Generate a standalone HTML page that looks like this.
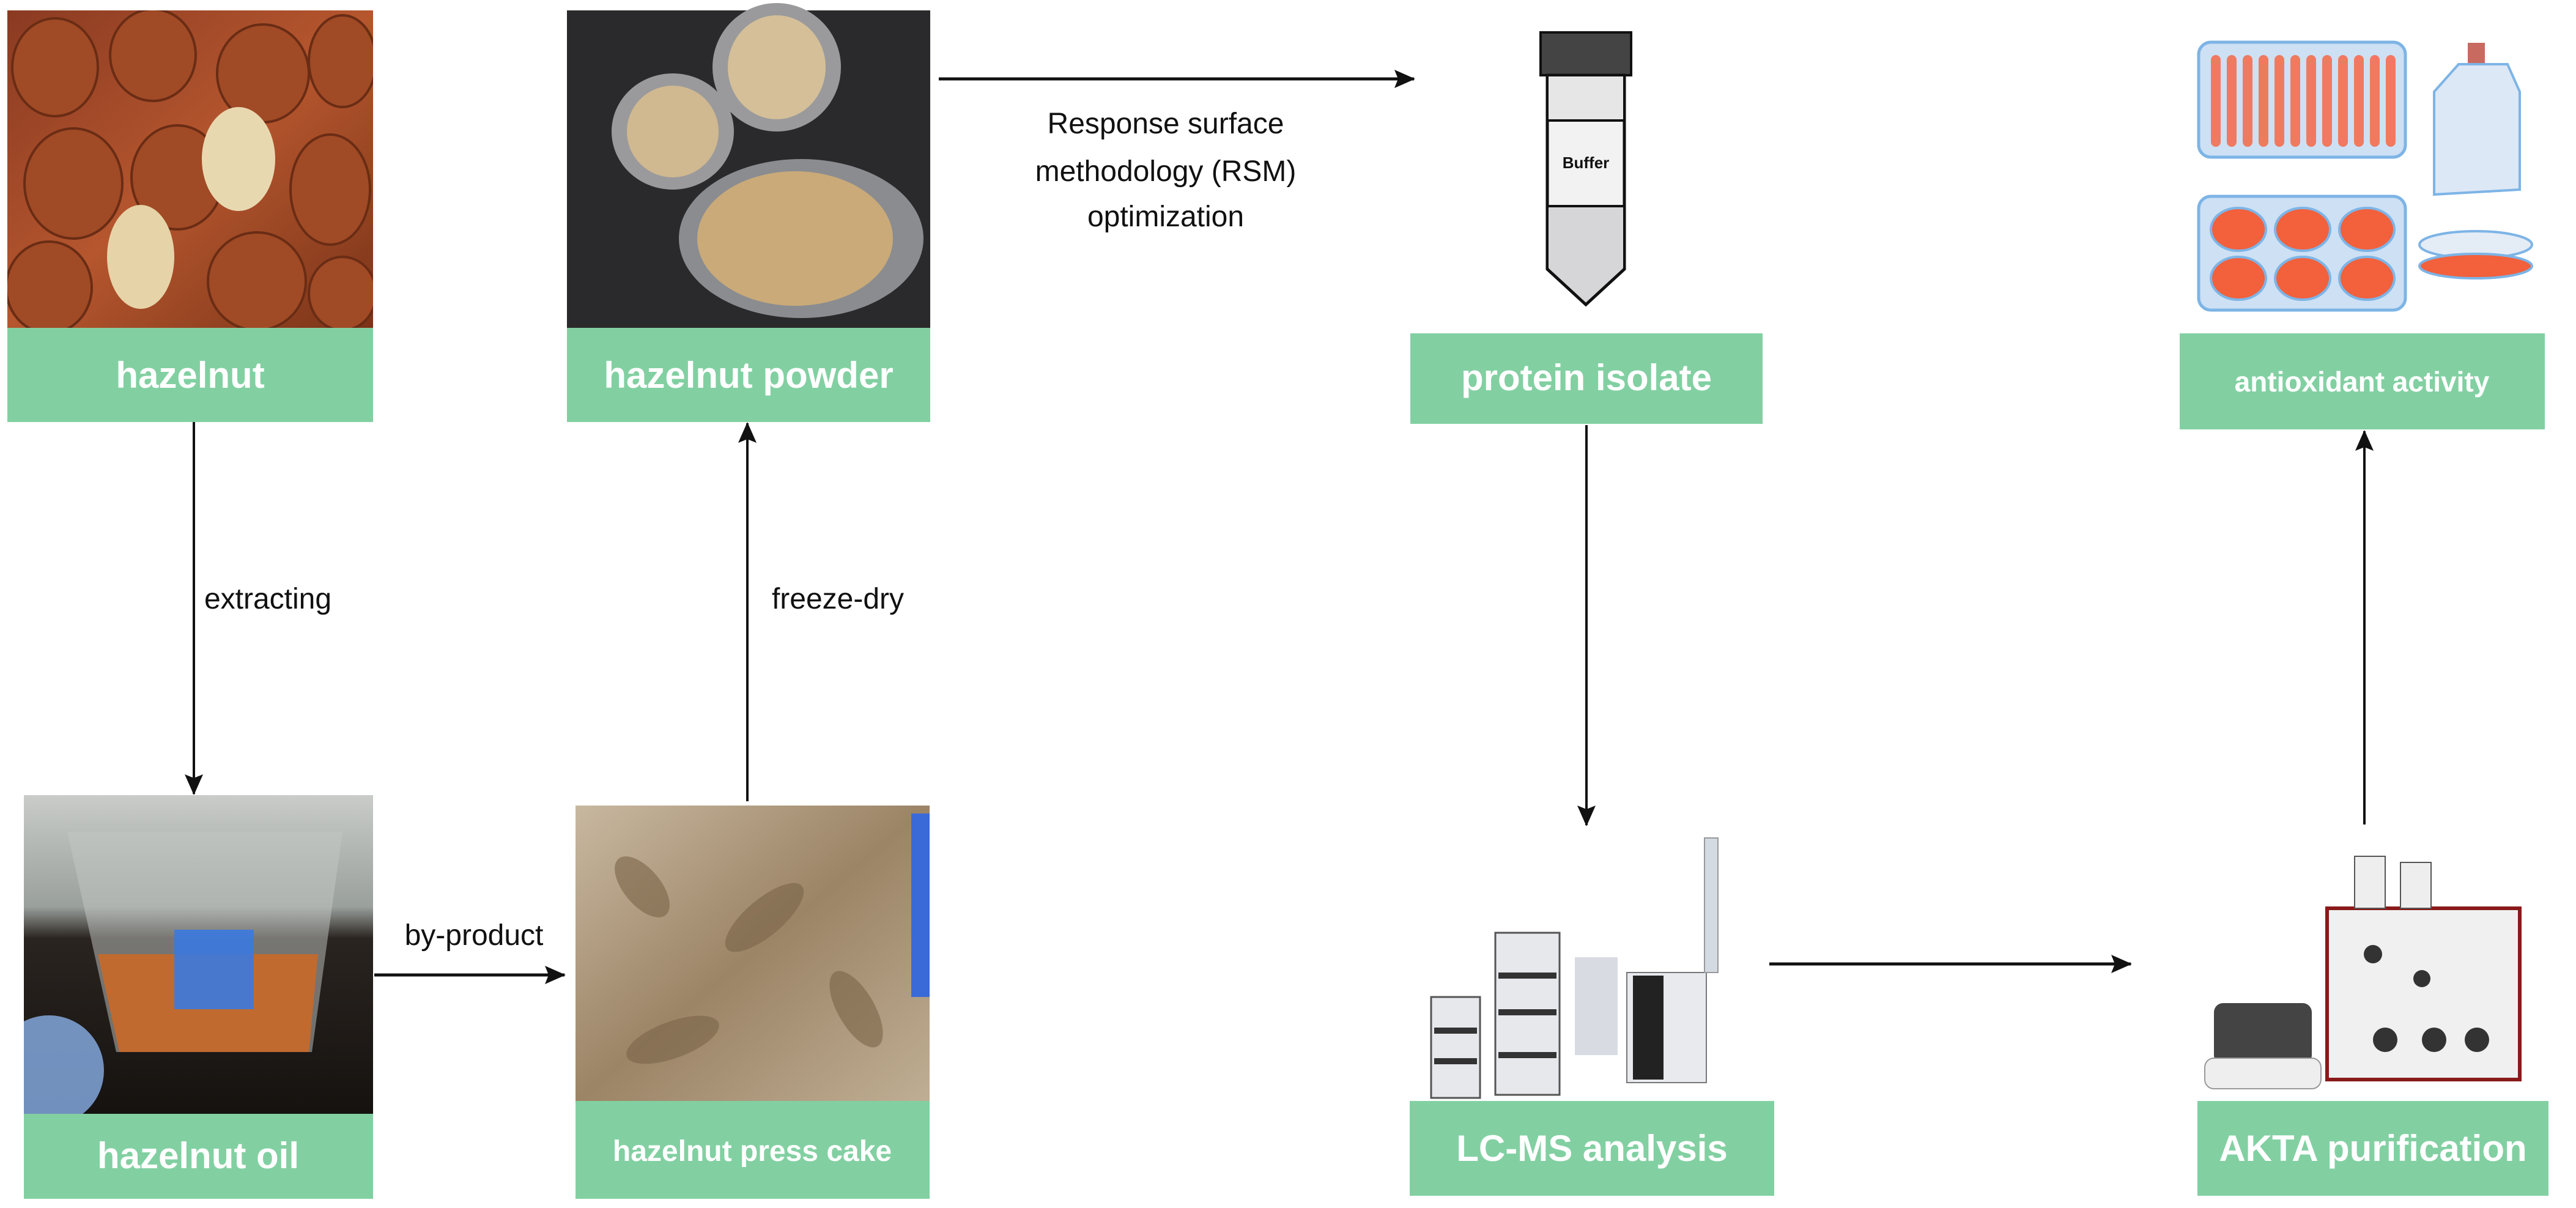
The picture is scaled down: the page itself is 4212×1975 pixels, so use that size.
<!DOCTYPE html>
<html><head><meta charset="utf-8"><style>
html,body{margin:0;padding:0;background:#fff;}
svg{display:block}
.lab{font-family:"Liberation Sans",sans-serif;font-weight:bold;fill:#fff;text-anchor:middle;}
.t{font-family:"Liberation Sans Narrow","Liberation Sans",sans-serif;fill:#111;text-anchor:middle;font-size:48px;}
</style></head><body>
<svg width="4212" height="1975" viewBox="0 0 4212 1975" xmlns="http://www.w3.org/2000/svg">
<defs>
<marker id="ar" markerWidth="34" markerHeight="30" refX="32" refY="15" orient="auto" markerUnits="userSpaceOnUse" viewBox="0 0 34 30"><path d="M0,0 L34,15 L0,30 L6,15 z" fill="#111"/></marker>
<linearGradient id="nut" x1="0" y1="0" x2="1" y2="1"><stop offset="0" stop-color="#8a3a22"/><stop offset="0.5" stop-color="#b5562e"/><stop offset="1" stop-color="#7a3418"/></linearGradient>
<linearGradient id="oil" x1="0" y1="0" x2="0" y2="1"><stop offset="0" stop-color="#c9ccc8"/><stop offset="0.35" stop-color="#9aa09c"/><stop offset="0.45" stop-color="#2a2420"/><stop offset="1" stop-color="#15120f"/></linearGradient>
<linearGradient id="cake" x1="0" y1="0" x2="1" y2="1"><stop offset="0" stop-color="#c8b8a0"/><stop offset="0.5" stop-color="#9c8466"/><stop offset="1" stop-color="#bfae94"/></linearGradient>
<clipPath id="oc"><rect x="39" y="1300" width="571" height="521"/></clipPath>
<clipPath id="nc"><rect x="12" y="17" width="598" height="519"/></clipPath>
</defs>

<!-- hazelnut image -->
<rect x="12" y="17" width="598" height="519" fill="url(#nut)"/>
<g fill="#a04a26" stroke="#6a2c14" stroke-width="4" clip-path="url(#nc)">
<ellipse cx="90" cy="110" rx="70" ry="80"/><ellipse cx="250" cy="90" rx="70" ry="75"/><ellipse cx="430" cy="120" rx="75" ry="80"/><ellipse cx="560" cy="100" rx="55" ry="75"/>
<ellipse cx="120" cy="300" rx="80" ry="90"/><ellipse cx="290" cy="290" rx="75" ry="85"/><ellipse cx="540" cy="310" rx="65" ry="90"/>
<ellipse cx="80" cy="470" rx="70" ry="75"/><ellipse cx="420" cy="460" rx="80" ry="80"/><ellipse cx="560" cy="480" rx="55" ry="60"/>
</g>
<ellipse cx="390" cy="260" rx="60" ry="85" fill="#e8d8b0"/><ellipse cx="230" cy="420" rx="55" ry="85" fill="#e6d4a8"/>
<rect x="12" y="536" width="598" height="154" fill="#82d0a2"/>
<text class="lab" x="311" y="634" font-size="60">hazelnut</text>

<!-- powder image -->
<rect x="927" y="17" width="594" height="519" fill="#2a2a2c"/>
<ellipse cx="1270" cy="110" rx="105" ry="105" fill="#9a9a9c"/><ellipse cx="1270" cy="110" rx="80" ry="85" fill="#d4bf98"/>
<ellipse cx="1100" cy="215" rx="100" ry="95" fill="#9a9a9c"/><ellipse cx="1100" cy="215" rx="75" ry="75" fill="#d0b890"/>
<ellipse cx="1310" cy="390" rx="200" ry="130" fill="#8a8c90"/><ellipse cx="1300" cy="390" rx="160" ry="110" fill="#c9aa78"/>
<rect x="927" y="536" width="594" height="154" fill="#82d0a2"/>
<text class="lab" x="1224" y="634" font-size="60">hazelnut powder</text>

<!-- RSM arrow -->
<line x1="1535" y1="129" x2="2312" y2="129" stroke="#111" stroke-width="5" marker-end="url(#ar)"/>
<text class="t" x="1906" y="218">Response surface</text>
<text class="t" x="1906" y="296">methodology (RSM)</text>
<text class="t" x="1906" y="370">optimization</text>

<!-- tube -->
<rect x="2519" y="53" width="148" height="70" fill="#444" stroke="#111" stroke-width="4"/>
<path d="M2530,123 L2656,123 L2656,440 L2593,498 L2530,440 Z" fill="#f2f2f2" stroke="#111" stroke-width="5"/>
<rect x="2532" y="125" width="122" height="70" fill="#e6e6e6"/>
<line x1="2530" y1="197" x2="2656" y2="197" stroke="#111" stroke-width="4"/>
<line x1="2530" y1="337" x2="2656" y2="337" stroke="#111" stroke-width="4"/>
<path d="M2532,339 L2654,339 L2654,438 L2593,494 L2532,438 Z" fill="#d6d6d8"/>
<text x="2593" y="275" font-family="Liberation Sans,sans-serif" font-weight="bold" font-size="26" text-anchor="middle" fill="#111">Buffer</text>
<rect x="2306" y="545" width="576" height="148" fill="#82d0a2"/>
<text class="lab" x="2594" y="638" font-size="60">protein isolate</text>

<!-- antioxidant -->
<rect x="3595" y="69" width="338" height="188" rx="20" fill="#cde0f4" stroke="#7db4e6" stroke-width="5"/>
<g fill="#f07a60">
<rect x="3615" y="90" width="16" height="150" rx="8"/><rect x="3641" y="90" width="16" height="150" rx="8"/><rect x="3667" y="90" width="16" height="150" rx="8"/><rect x="3693" y="90" width="16" height="150" rx="8"/><rect x="3719" y="90" width="16" height="150" rx="8"/><rect x="3745" y="90" width="16" height="150" rx="8"/><rect x="3771" y="90" width="16" height="150" rx="8"/><rect x="3797" y="90" width="16" height="150" rx="8"/><rect x="3823" y="90" width="16" height="150" rx="8"/><rect x="3849" y="90" width="16" height="150" rx="8"/><rect x="3875" y="90" width="16" height="150" rx="8"/><rect x="3901" y="90" width="16" height="150" rx="8"/>
</g>
<rect x="4035" y="70" width="28" height="35" fill="#c86a60"/>
<path d="M3980,150 L4020,105 L4100,105 L4120,150 L4120,310 L3980,318 Z" fill="#dde8f6" stroke="#7db4e6" stroke-width="4"/>
<rect x="3595" y="321" width="338" height="186" rx="20" fill="#cde0f4" stroke="#7db4e6" stroke-width="5"/>
<g fill="#f2603c" stroke="#7db4e6" stroke-width="4">
<ellipse cx="3660" cy="375" rx="45" ry="35"/><ellipse cx="3765" cy="375" rx="45" ry="35"/><ellipse cx="3870" cy="375" rx="45" ry="35"/>
<ellipse cx="3660" cy="455" rx="45" ry="35"/><ellipse cx="3765" cy="455" rx="45" ry="35"/><ellipse cx="3870" cy="455" rx="45" ry="35"/>
</g>
<ellipse cx="4048" cy="400" rx="92" ry="22" fill="#e4ecf6" stroke="#7db4e6" stroke-width="4"/>
<ellipse cx="4048" cy="435" rx="92" ry="20" fill="#f2603c" stroke="#7db4e6" stroke-width="4"/>
<rect x="3564" y="545" width="597" height="157" fill="#82d0a2"/>
<text class="lab" x="3862" y="640" font-size="46">antioxidant activity</text>

<!-- left arrows -->
<line x1="317" y1="690" x2="317" y2="1298" stroke="#111" stroke-width="4" marker-end="url(#ar)"/>
<text class="t" x="438" y="995">extracting</text>
<line x1="1222" y1="1310" x2="1222" y2="692" stroke="#111" stroke-width="4" marker-end="url(#ar)"/>
<text class="t" x="1370" y="995">freeze-dry</text>
<line x1="612" y1="1594" x2="923" y2="1594" stroke="#111" stroke-width="5" marker-end="url(#ar)"/>
<text class="t" x="775" y="1545">by-product</text>

<!-- oil -->
<rect x="39" y="1300" width="571" height="521" fill="url(#oil)"/>
<g clip-path="url(#oc)">
<path d="M110,1360 L560,1360 L510,1720 L190,1720 Z" fill="#c4c8c6" opacity="0.5"/>
<path d="M160,1560 L520,1560 L505,1720 L195,1720 Z" fill="#c06a30"/>
<rect x="285" y="1520" width="130" height="130" fill="#3a7ae0" opacity="0.9"/>
<ellipse cx="80" cy="1750" rx="90" ry="90" fill="#8ab0e8" opacity="0.8"/>
</g>
<rect x="39" y="1821" width="571" height="139" fill="#82d0a2"/>
<text class="lab" x="324" y="1910" font-size="60">hazelnut oil</text>

<!-- press cake -->
<rect x="941" y="1317" width="579" height="483" fill="url(#cake)"/>
<g fill="#7a6448" opacity="0.6">
<ellipse cx="1050" cy="1450" rx="60" ry="30" transform="rotate(50 1050 1450)"/><ellipse cx="1250" cy="1500" rx="80" ry="30" transform="rotate(-40 1250 1500)"/><ellipse cx="1400" cy="1650" rx="70" ry="30" transform="rotate(60 1400 1650)"/><ellipse cx="1100" cy="1700" rx="80" ry="30" transform="rotate(-20 1100 1700)"/>
</g>
<rect x="1490" y="1330" width="30" height="300" fill="#3a6ad8"/>
<rect x="941" y="1800" width="579" height="160" fill="#82d0a2"/>
<text class="lab" x="1230" y="1898" font-size="48">hazelnut press cake</text>

<!-- right arrows -->
<line x1="2594" y1="695" x2="2594" y2="1349" stroke="#111" stroke-width="4" marker-end="url(#ar)"/>
<line x1="2893" y1="1576" x2="3484" y2="1576" stroke="#111" stroke-width="5" marker-end="url(#ar)"/>
<line x1="3866" y1="1348" x2="3866" y2="705" stroke="#111" stroke-width="4" marker-end="url(#ar)"/>

<!-- LC-MS -->
<rect x="2340" y="1630" width="80" height="165" fill="#e6e8ec" stroke="#555" stroke-width="3"/>
<rect x="2445" y="1525" width="105" height="265" fill="#e6e8ec" stroke="#555" stroke-width="3"/>
<g fill="#333"><rect x="2345" y="1680" width="70" height="10"/><rect x="2345" y="1730" width="70" height="10"/><rect x="2450" y="1590" width="95" height="10"/><rect x="2450" y="1650" width="95" height="10"/><rect x="2450" y="1720" width="95" height="10"/></g>
<rect x="2575" y="1565" width="70" height="160" fill="#d8dce2"/>
<rect x="2660" y="1590" width="130" height="180" fill="#e8eaee" stroke="#777" stroke-width="2"/>
<rect x="2670" y="1595" width="50" height="170" fill="#222"/>
<rect x="2787" y="1370" width="22" height="220" fill="#d4dae2" stroke="#999" stroke-width="2"/>
<rect x="2305" y="1800" width="596" height="155" fill="#82d0a2"/>
<text class="lab" x="2603" y="1898" font-size="60">LC-MS analysis</text>

<!-- AKTA -->
<rect x="3805" y="1485" width="315" height="280" fill="#f0f0f0" stroke="#8a1a1a" stroke-width="6"/>
<rect x="3850" y="1400" width="50" height="85" fill="#eee" stroke="#555" stroke-width="2"/>
<rect x="3925" y="1410" width="50" height="75" fill="#eee" stroke="#555" stroke-width="2"/>
<g fill="#333"><circle cx="3880" cy="1560" r="15"/><circle cx="3960" cy="1600" r="14"/><circle cx="3900" cy="1700" r="20"/><circle cx="3980" cy="1700" r="20"/><circle cx="4050" cy="1700" r="20"/></g>
<rect x="3620" y="1640" width="160" height="100" rx="15" fill="#444"/>
<rect x="3605" y="1730" width="190" height="50" rx="15" fill="#eee" stroke="#999" stroke-width="2"/>
<rect x="3593" y="1800" width="574" height="155" fill="#82d0a2"/>
<text class="lab" x="3880" y="1898" font-size="60">AKTA purification</text>
</svg>
</body></html>
